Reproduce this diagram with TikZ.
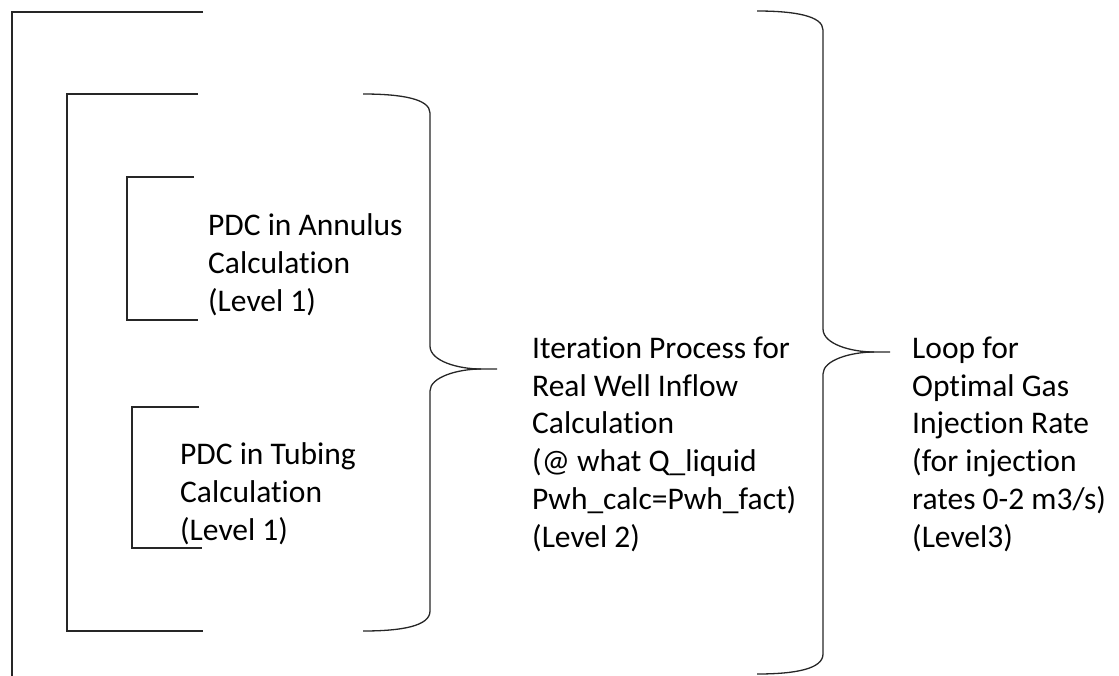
\documentclass[tikz,border=0pt]{standalone}
\usepackage{fontspec}
\setmainfont{Carlito}[Ligatures=NoCommon]
\usepackage{tikz}
\usetikzlibrary{calc}
\tikzset{
  bline/.style={black!85,line width=1.3pt},
  lvltext/.style={anchor=base west,align=left,inner sep=0pt,
    font=\fontsize{31.5}{37.7}\selectfont}
}
% bracket: x, top y, bottom y, top end x, bottom end x
\newcommand{\prbracket}[5]{\draw[bline] (#4,#2) -- (#1,#2) -- (#1,#3) -- (#5,#3);}
% brace: start x, end x, top y, bottom y, tip y, tip end x
\newcommand{\prbrace}[6]{\draw[bline] (#1,#3) .. controls ($(#2,#3)+(-28,0)$) and ($(#2,#3)+(0,5)$) .. ($(#2,#3)+(0,19)$)
    -- ($(#2,#5)+(0,-23)$) .. controls ($(#2,#5)+(0,-8)$) and ($(#2,#5)+(28,0)$) .. ($(#2,#5)+(51,0)$) -- (#6,#5);
  \draw[bline] ($(#2,#5)+(51,0)$) .. controls ($(#2,#5)+(28,0)$) and ($(#2,#5)+(0,8)$) .. ($(#2,#5)+(0,22)$)
    -- ($(#2,#4)+(0,-20)$) .. controls ($(#2,#4)+(0,-5)$) and ($(#2,#4)+(-28,0)$) .. (#1,#4);}

\begin{document}
\begin{tikzpicture}[x=1pt,y=-1pt]
  \useasboundingbox (0,0) rectangle (1119,675);

  % outer bracket (level 3)
  \draw[bline] (203,12) -- (12,12) -- (12,680);
  % middle bracket (level 2)
  \prbracket{67}{94}{631}{198}{203}
  % inner brackets (level 1)
  \prbracket{127}{177}{320}{194}{198}
  \prbracket{132}{407}{548}{199}{202}

  % braces
  \prbrace{363}{430}{94}{631}{369}{497}
  \prbrace{757}{823}{11}{674}{352}{890}

  % texts (anchored at the last line)
  \node[lvltext] (annulus) at (208,311) {PDC in Annulus\\Calculation\\(Level 1)};
  \node[lvltext] (tubing) at (180,540) {PDC in Tubing\\Calculation\\(Level 1)};
  \node[lvltext] (iteration) at (532,547) {Iteration Process for\\Real Well Inflow\\Calculation\\(@ what Q\_liquid\\Pwh\_calc=Pwh\_fact)\\(Level 2)};
  \node[lvltext] (loop) at (912,547) {Loop for\\Optimal Gas\\Injection Rate\\(for injection\\rates 0-2 m3/s)\\(Level3)};
\end{tikzpicture}
\end{document}
